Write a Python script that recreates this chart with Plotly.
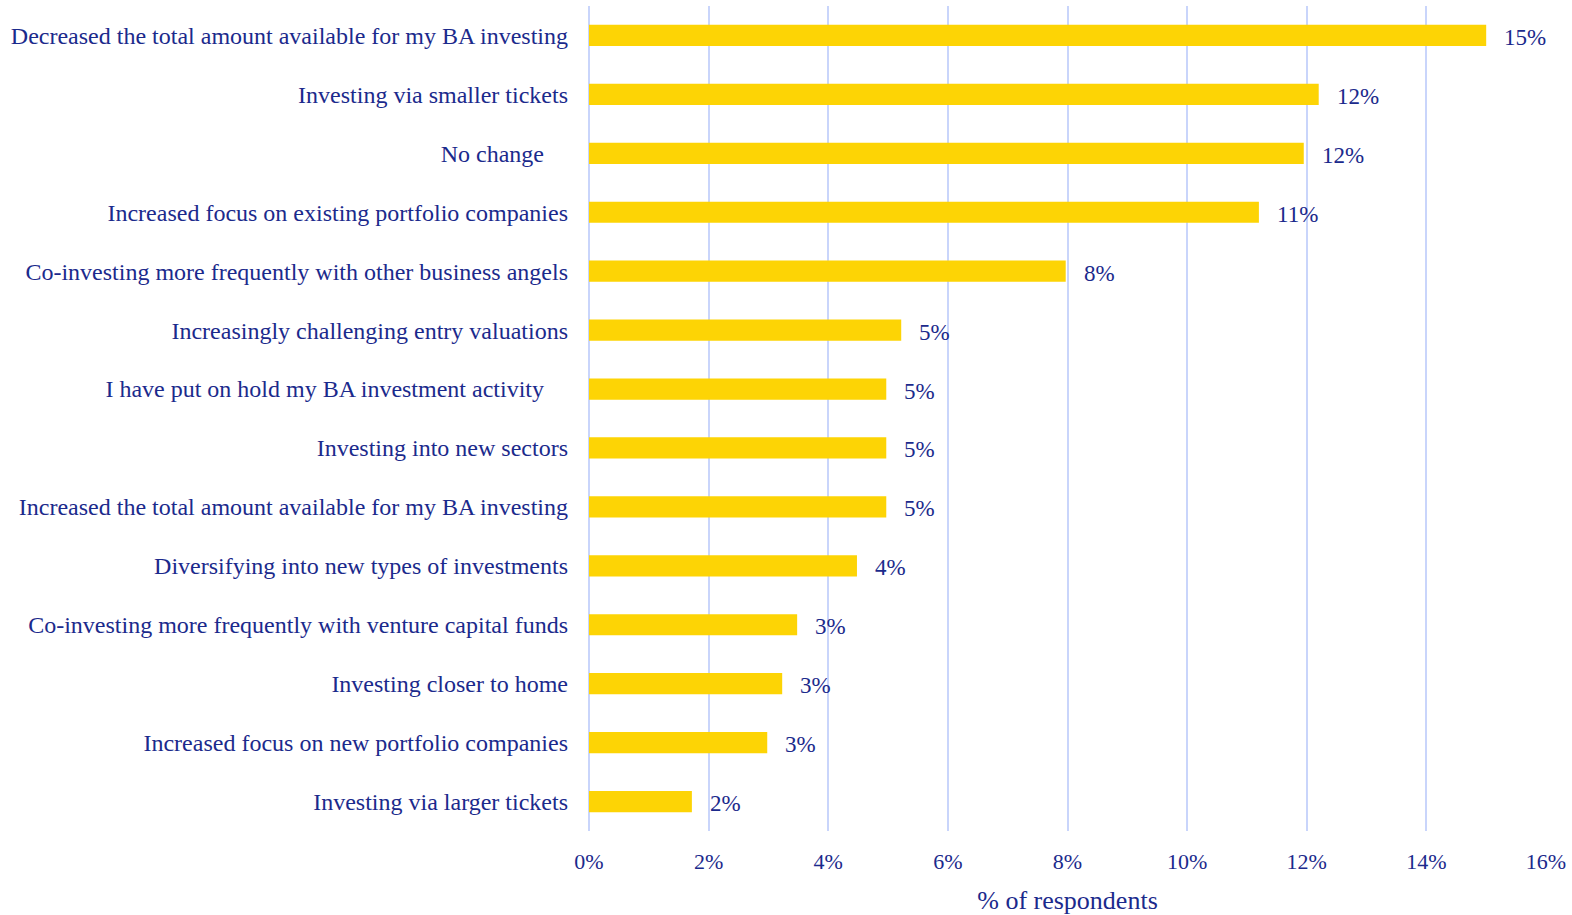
import plotly.graph_objects as go

categories = [
    "Decreased the total amount available for my BA investing",
    "Investing via smaller tickets",
    "No change\u00a0\u00a0\u00a0\u00a0",
    "Increased focus on existing portfolio companies",
    "Co-investing more frequently with other business angels",
    "Increasingly challenging entry valuations",
    "I have put on hold my BA investment activity\u00a0\u00a0\u00a0\u00a0",
    "Investing into new sectors",
    "Increased the total amount available for my BA investing",
    "Diversifying into new types of investments",
    "Co-investing more frequently with venture capital funds",
    "Investing closer to home",
    "Increased focus on new portfolio companies",
    "Investing via larger tickets",
]
values = [15.0, 12.2, 11.95, 11.2, 7.97, 5.22, 4.97, 4.97, 4.97, 4.48, 3.48, 3.23, 2.98, 1.72]
labels = ["15%", "12%", "12%", "11%", "8%", "5%", "5%", "5%", "5%", "4%", "3%", "3%", "3%", "2%"]
tick_vals = [0, 2, 4, 6, 8, 10, 12, 14, 16]
tick_text = ["0%", "2%", "4%", "6%", "8%", "10%", "12%", "14%", "16%"]

TEXT = "#1B2A8C"
FONT = "Liberation Serif, Times New Roman, serif"

fig = go.Figure()
fig.add_trace(go.Bar(
    y=categories, x=values, orientation="h",
    marker=dict(color="#FDD405", line=dict(width=0)),
    width=0.36,
    hoverinfo="skip",
))

for c, v, t in zip(categories, values, labels):
    fig.add_annotation(x=v, y=c, text=t, showarrow=False, xanchor="left",
                       xshift=16, yshift=-2, font=dict(family=FONT, size=23, color=TEXT))

fig.update_layout(
    width=1572, height=915,
    margin=dict(l=589, r=26, t=6, b=84),
    plot_bgcolor="white", paper_bgcolor="white",
    showlegend=False,
    font=dict(family=FONT, size=23, color=TEXT),
    bargap=0.64,
)
fig.update_xaxes(
    range=[0, 16], tickvals=tick_vals, ticktext=tick_text,
    showgrid=True, gridcolor="#C9D5FB", gridwidth=2,
    zeroline=True, zerolinecolor="#C9D5FB", zerolinewidth=2,
    showline=False, ticks="", ticklabelstandoff=15, automargin=False,
    title=dict(text="% of respondents", font=dict(family=FONT, size=26, color=TEXT), standoff=17),
    tickfont=dict(family=FONT, size=22, color=TEXT),
)
fig.update_yaxes(
    categoryorder="array", categoryarray=categories[::-1],
    autorange=True, showgrid=False, showline=False, ticks="",
    ticklabelstandoff=20, automargin=False,
    tickfont=dict(family=FONT, size=24, color=TEXT),
)

fig.write_html("out.html", config={"displayModeBar": False},
               post_script="document.body.style.margin='0';document.body.style.overflow='hidden';")
